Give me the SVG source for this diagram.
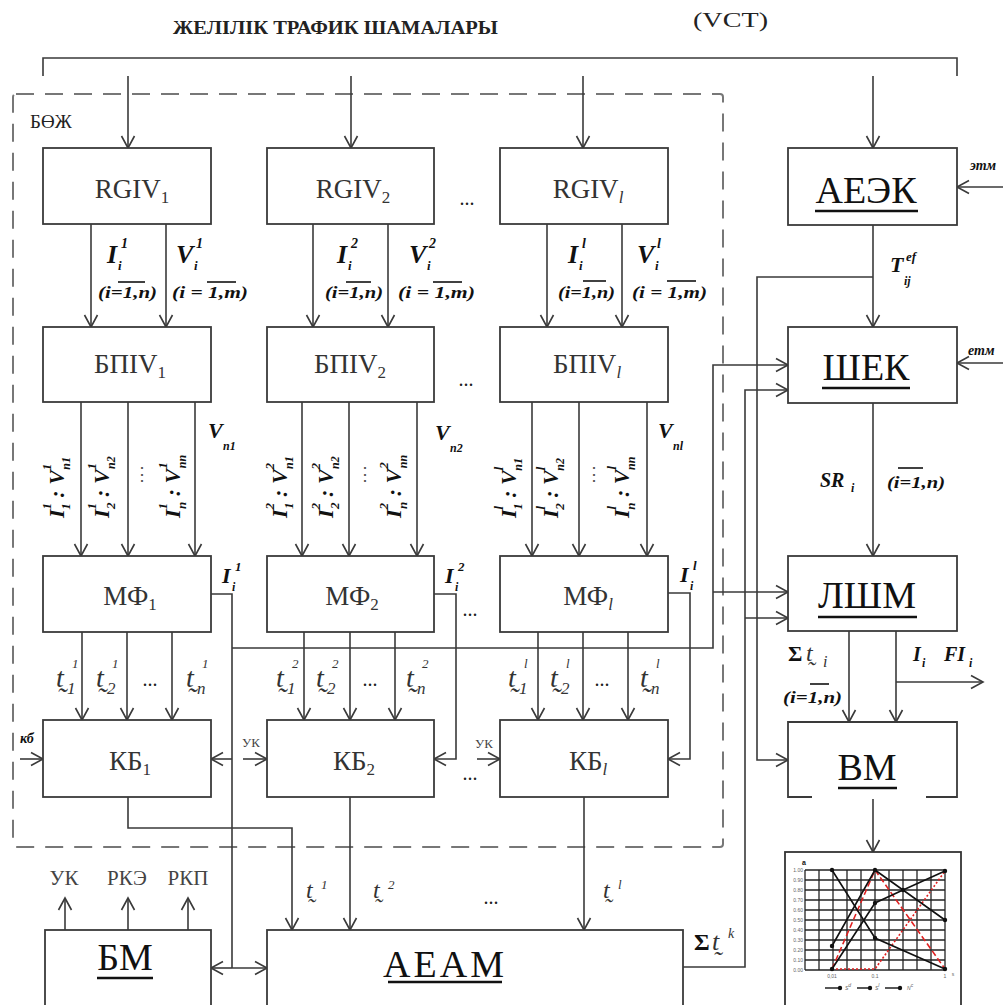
<svg xmlns="http://www.w3.org/2000/svg" width="1003" height="1005" viewBox="0 0 1003 1005">
<defs>
<marker id="ah" markerUnits="userSpaceOnUse" markerWidth="16" markerHeight="16" refX="13" refY="8" orient="auto"><path d="M1,1.5 L13,8 L1,14.5" fill="none" stroke="#3a3a3a" stroke-width="1.6"/></marker>
<marker id="dot" markerUnits="userSpaceOnUse" markerWidth="6" markerHeight="6" refX="3" refY="3"><circle cx="3" cy="3" r="2.2" fill="#111"/></marker>
<style>
.ln{fill:none;stroke:#3a3a3a;stroke-width:1.6}
.ar{marker-end:url(#ah)}
.box{fill:#fff;stroke:#3a3a3a;stroke-width:1.8}
.ul{stroke:#111;stroke-width:2.6}
.lbl{font-family:"Liberation Serif","Times New Roman",serif;font-size:27px;fill:#333;text-anchor:middle}
.sb{font-size:17px}
.big{font-family:"Liberation Serif","Times New Roman",serif;font-size:38px;fill:#111;text-anchor:middle}
.m{font-family:"Liberation Serif","Times New Roman",serif;font-weight:bold;font-style:italic;fill:#111}
.it{font-family:"Liberation Serif","DejaVu Serif",serif;font-style:italic;fill:#333}
.rg{font-family:"Liberation Serif","Times New Roman",serif;fill:#222}
.dots{font-family:"Liberation Serif","Times New Roman",serif;font-size:20px;fill:#222;text-anchor:middle}
.tl{font-family:"Liberation Serif","Times New Roman",serif;fill:#444;text-anchor:middle}
.grid{stroke:#222;stroke-width:1.3}
.tiny{font-family:"Liberation Sans",sans-serif;font-size:5px;fill:#666}
</style>
</defs>
<rect width="1003" height="1005" fill="#fff"/>

<text class="rg" x="173" y="34" font-size="19" font-weight="bold" textLength="325" lengthAdjust="spacingAndGlyphs">ЖЕЛІЛІК ТРАФИК ШАМАЛАРЫ</text>
<text class="rg" x="693" y="27" font-size="22" textLength="75" lengthAdjust="spacingAndGlyphs">(VCT)</text>

<g id="boj">
<rect x="13" y="94" width="710" height="753" rx="3" fill="none" stroke="#777" stroke-width="2" stroke-dasharray="18 11"/>
<text class="rg" x="30" y="128" font-size="19">БӨЖ</text>
</g>

<g id="connectors">
<polyline class="ln" points="43,76 43,58 957,58 957,76"/>
<line class="ln ar" x1="128" y1="76" x2="128" y2="148"/>
<line class="ln ar" x1="351" y1="76" x2="351" y2="148"/>
<line class="ln ar" x1="583" y1="76" x2="583" y2="148"/>
<line class="ln ar" x1="873" y1="76" x2="873" y2="148"/>
<line class="ln ar" x1="91" y1="224" x2="91" y2="327"/>
<line class="ln ar" x1="166" y1="224" x2="166" y2="327"/>
<line class="ln ar" x1="313" y1="224" x2="313" y2="327"/>
<line class="ln ar" x1="388" y1="224" x2="388" y2="327"/>
<line class="ln ar" x1="547" y1="224" x2="547" y2="327"/>
<line class="ln ar" x1="622" y1="224" x2="622" y2="327"/>
<line class="ln ar" x1="81" y1="402" x2="81" y2="556"/>
<line class="ln ar" x1="128" y1="402" x2="128" y2="556"/>
<line class="ln ar" x1="195" y1="402" x2="195" y2="556"/>
<line class="ln ar" x1="302" y1="402" x2="302" y2="556"/>
<line class="ln ar" x1="349" y1="402" x2="349" y2="556"/>
<line class="ln ar" x1="417" y1="402" x2="417" y2="556"/>
<line class="ln ar" x1="532" y1="402" x2="532" y2="556"/>
<line class="ln ar" x1="579" y1="402" x2="579" y2="556"/>
<line class="ln ar" x1="647" y1="402" x2="647" y2="556"/>
<line class="ln ar" x1="82" y1="632" x2="82" y2="720"/>
<line class="ln ar" x1="127" y1="632" x2="127" y2="720"/>
<line class="ln ar" x1="172" y1="632" x2="172" y2="720"/>
<line class="ln ar" x1="304" y1="632" x2="304" y2="720"/>
<line class="ln ar" x1="350" y1="632" x2="350" y2="720"/>
<line class="ln ar" x1="395" y1="632" x2="395" y2="720"/>
<line class="ln ar" x1="538" y1="632" x2="538" y2="720"/>
<line class="ln ar" x1="583" y1="632" x2="583" y2="720"/>
<line class="ln ar" x1="628" y1="632" x2="628" y2="720"/>
<polyline class="ln" points="211,594 232,594 232,968"/>
<line class="ln ar" x1="232" y1="759" x2="211" y2="759"/>
<line class="ln ar" x1="232" y1="968" x2="211" y2="968"/>
<line class="ln ar" x1="232" y1="968" x2="267" y2="968"/>
<polyline class="ln ar" points="232,648 713,648 713,365 788,365"/>
<line class="ln ar" x1="713" y1="592" x2="788" y2="592"/>
<polyline class="ln ar" points="434,594 456,594 456,759 434,759"/>
<polyline class="ln ar" points="668,593 690,593 690,759 668,759"/>
<line class="ln ar" x1="243" y1="759" x2="267" y2="759"/>
<line class="ln ar" x1="477" y1="759" x2="500" y2="759"/>
<line class="ln ar" x1="20" y1="759" x2="43" y2="759"/>
<polyline class="ln ar" points="128,797 128,828 292,828 292,930"/>
<line class="ln ar" x1="350" y1="797" x2="350" y2="930"/>
<line class="ln ar" x1="584" y1="797" x2="584" y2="930"/>
<polyline class="ln ar" points="683,967 745,967 745,390 788,390"/>
<line class="ln ar" x1="745" y1="618" x2="788" y2="618"/>
<line class="ln ar" x1="873" y1="225" x2="873" y2="327"/>
<polyline class="ln ar" points="873,277 757,277 757,760 788,760"/>
<line class="ln ar" x1="1003" y1="187" x2="957" y2="187"/>
<line class="ln ar" x1="1003" y1="363" x2="957" y2="363"/>
<line class="ln ar" x1="873" y1="403" x2="873" y2="556"/>
<line class="ln ar" x1="849" y1="631" x2="849" y2="722"/>
<line class="ln ar" x1="896" y1="631" x2="896" y2="722"/>
<line class="ln ar" x1="896" y1="682" x2="983" y2="682"/>
<line class="ln ar" x1="873" y1="799" x2="873" y2="852"/>
<line class="ln ar" x1="65" y1="930" x2="65" y2="898"/>
<line class="ln ar" x1="128" y1="930" x2="128" y2="898"/>
<line class="ln ar" x1="188" y1="930" x2="188" y2="898"/>
</g>

<g id="rgiv1"><rect class="box" x="43" y="148" width="168" height="76"/><text class="lbl" x="132" y="198">RGIV<tspan class="sb" dy="5">1</tspan></text></g>
<g id="rgiv2"><rect class="box" x="267" y="148" width="167" height="76"/><text class="lbl" x="353" y="198">RGIV<tspan class="sb" dy="5">2</tspan></text></g>
<g id="rgivl"><rect class="box" x="500" y="148" width="168" height="76"/><text class="lbl" x="588" y="198">RGIV<tspan class="sb" dy="5" font-style="italic">l</tspan></text></g>
<g id="bpiv1"><rect class="box" x="43" y="327" width="168" height="75"/><text class="lbl" x="130" y="373">БПIV<tspan class="sb" dy="5">1</tspan></text></g>
<g id="bpiv2"><rect class="box" x="267" y="327" width="167" height="75"/><text class="lbl" x="350" y="373">БПIV<tspan class="sb" dy="5">2</tspan></text></g>
<g id="bpivl"><rect class="box" x="500" y="327" width="168" height="75"/><text class="lbl" x="587" y="373">БПIV<tspan class="sb" dy="5" font-style="italic">l</tspan></text></g>
<g id="mf1"><rect class="box" x="43" y="556" width="168" height="76"/><text class="lbl" x="130" y="605">МФ<tspan class="sb" dy="5">1</tspan></text></g>
<g id="mf2"><rect class="box" x="267" y="556" width="167" height="76"/><text class="lbl" x="352" y="605">МФ<tspan class="sb" dy="5">2</tspan></text></g>
<g id="mfl"><rect class="box" x="500" y="556" width="168" height="76"/><text class="lbl" x="588" y="605">МФ<tspan class="sb" dy="5" font-style="italic">l</tspan></text></g>
<g id="kb1"><rect class="box" x="43" y="720" width="168" height="77"/><text class="lbl" x="130" y="770">КБ<tspan class="sb" dy="5">1</tspan></text></g>
<g id="kb2"><rect class="box" x="267" y="720" width="167" height="77"/><text class="lbl" x="354" y="770">КБ<tspan class="sb" dy="5">2</tspan></text></g>
<g id="kbl"><rect class="box" x="500" y="720" width="168" height="77"/><text class="lbl" x="588" y="770">КБ<tspan class="sb" dy="5" font-style="italic">l</tspan></text></g>

<g id="aeek"><rect class="box" x="788" y="148" width="169" height="77"/><text class="big" x="866" y="203" font-size="37">АЕЭК</text><line class="ul" x1="815" y1="211" x2="918" y2="211"/></g>
<g id="shek"><rect class="box" x="788" y="327" width="169" height="76"/><text class="big" x="866" y="380">ШЕК</text><line class="ul" x1="822" y1="388" x2="910" y2="388"/></g>
<g id="lshm"><rect class="box" x="788" y="556" width="169" height="75"/><text class="big" x="867" y="608">ЛШМ</text><line class="ul" x1="818" y1="617" x2="917" y2="617"/></g>
<g id="vm"><path class="box" d="M812,797 L788,797 L788,722 L957,722 L957,797 L926,797"/><text class="big" x="867" y="780">ВМ</text><line class="ul" x1="838" y1="788" x2="897" y2="788"/></g>
<g id="bm"><rect class="box" x="45" y="930" width="166" height="80"/><text class="big" x="125" y="970" font-size="36">БМ</text><line class="ul" x1="97" y1="978" x2="153" y2="978"/></g>
<g id="aeam"><rect class="box" x="267" y="930" width="416" height="80"/><text class="big" x="445" y="977" font-size="31" letter-spacing="3">АЕАМ</text><line class="ul" x1="388" y1="982" x2="502" y2="982" stroke-width="2"/></g>

<g id="chart">
<rect x="785" y="852" width="176" height="170" fill="#fff" stroke="#333" stroke-width="1.8"/>
<g class="grid">
<line x1="805" y1="870" x2="805" y2="970"/><line x1="819" y1="870" x2="819" y2="970"/><line x1="833" y1="870" x2="833" y2="970"/><line x1="847" y1="870" x2="847" y2="970"/><line x1="861" y1="870" x2="861" y2="970"/><line x1="875" y1="870" x2="875" y2="970"/><line x1="889" y1="870" x2="889" y2="970"/><line x1="903" y1="870" x2="903" y2="970"/><line x1="917" y1="870" x2="917" y2="970"/><line x1="931" y1="870" x2="931" y2="970"/><line x1="945" y1="870" x2="945" y2="970"/>
<line x1="805" y1="870" x2="945" y2="870"/><line x1="805" y1="880" x2="945" y2="880"/><line x1="805" y1="890" x2="945" y2="890"/><line x1="805" y1="900" x2="945" y2="900"/><line x1="805" y1="910" x2="945" y2="910"/><line x1="805" y1="920" x2="945" y2="920"/><line x1="805" y1="930" x2="945" y2="930"/><line x1="805" y1="940" x2="945" y2="940"/><line x1="805" y1="950" x2="945" y2="950"/><line x1="805" y1="960" x2="945" y2="960"/><line x1="805" y1="970" x2="945" y2="970"/>
</g>
<g fill="none" stroke-width="1.6">
<polyline points="832,969 875,870 945,969" stroke="#e02020" stroke-dasharray="6 3"/>
<polyline points="832,969 875,969 945,871" stroke="#e02020" stroke-dasharray="2 2"/>
<polyline points="832,870 875,938 945,969" stroke="#111" marker-start="url(#dot)" marker-mid="url(#dot)" marker-end="url(#dot)"/>
<polyline points="832,946 875,870 945,920" stroke="#111" marker-start="url(#dot)" marker-mid="url(#dot)" marker-end="url(#dot)"/>
<polyline points="832,969 875,903 903,890 945,871" stroke="#111" marker-start="url(#dot)" marker-mid="url(#dot)" marker-end="url(#dot)"/>
</g>
<text x="802" y="865" font-family="Liberation Sans,sans-serif" font-size="7" font-weight="bold" fill="#111">a</text>
<g class="tiny" text-anchor="end">
<text x="803" y="872">1.00</text><text x="803" y="882">0.90</text><text x="803" y="892">0.80</text><text x="803" y="902">0.70</text><text x="803" y="912">0.60</text><text x="803" y="922">0.50</text><text x="803" y="932">0.40</text><text x="803" y="942">0.30</text><text x="803" y="952">0.20</text><text x="803" y="962">0.10</text><text x="803" y="972">0.00</text>
</g>
<g class="tiny" text-anchor="middle">
<text x="832" y="978">0,01</text><text x="875" y="978">0.1</text><text x="945" y="978">1</text><text x="953" y="976">s</text>
</g>
<g stroke="#111" stroke-width="1.4" fill="none">
<line x1="825" y1="988" x2="840" y2="988" marker-end="url(#dot)"/>
<line x1="857" y1="988" x2="870" y2="988" marker-end="url(#dot)"/>
<line x1="885" y1="988" x2="900" y2="988" marker-end="url(#dot)"/>
</g>
<g class="tiny" font-size="7" font-style="italic">
<text x="845" y="990">S<tspan font-size="5" dy="-3">d</tspan></text>
<text x="875" y="990">S<tspan font-size="5" dy="-3">l</tspan></text>
<text x="907" y="990">N<tspan font-size="5" dy="-3">c</tspan></text>
</g>
</g>

<g id="labels-rgiv">
<text class="m" font-size="26"><tspan x="107" y="263">I</tspan><tspan x="121" y="248" font-size="14">1</tspan><tspan x="118" y="270" font-size="13">i</tspan></text>
<text class="m" font-size="26"><tspan x="176" y="263">V</tspan><tspan x="196" y="248" font-size="14">1</tspan><tspan x="194" y="270" font-size="13">i</tspan></text>
<text class="m" font-size="26"><tspan x="337" y="263">I</tspan><tspan x="351" y="248" font-size="14">2</tspan><tspan x="348" y="270" font-size="13">i</tspan></text>
<text class="m" font-size="26"><tspan x="409" y="263">V</tspan><tspan x="429" y="248" font-size="14">2</tspan><tspan x="427" y="270" font-size="13">i</tspan></text>
<text class="m" font-size="26"><tspan x="568" y="263">I</tspan><tspan x="582" y="248" font-size="14">l</tspan><tspan x="579" y="270" font-size="13">i</tspan></text>
<text class="m" font-size="26"><tspan x="637" y="263">V</tspan><tspan x="657" y="248" font-size="14">l</tspan><tspan x="655" y="270" font-size="13">i</tspan></text>
<g font-size="17">
<text class="m" x="98" y="298" textLength="59" lengthAdjust="spacingAndGlyphs">(i=1,n)</text>
<text class="m" x="172" y="298" textLength="76" lengthAdjust="spacingAndGlyphs">(i = 1,m)</text>
<text class="m" x="325" y="298" textLength="58" lengthAdjust="spacingAndGlyphs">(i=1,n)</text>
<text class="m" x="398" y="298" textLength="77" lengthAdjust="spacingAndGlyphs">(i = 1,m)</text>
<text class="m" x="558" y="298" textLength="57" lengthAdjust="spacingAndGlyphs">(i=1,n)</text>
<text class="m" x="632" y="298" textLength="75" lengthAdjust="spacingAndGlyphs">(i = 1,m)</text>
</g>
<g stroke="#111" stroke-width="1.6">
<line x1="118" y1="282" x2="145" y2="282"/><line x1="207" y1="282" x2="236" y2="282"/>
<line x1="346" y1="282" x2="371" y2="282"/><line x1="433" y1="282" x2="462" y2="282"/>
<line x1="583" y1="281" x2="606" y2="281"/><line x1="667" y1="281" x2="696" y2="281"/>
</g>
<text class="dots" x="467" y="205">...</text>
<text class="dots" x="466" y="386">...</text>
<text class="dots" x="470" y="616">...</text>
<text class="dots" x="470" y="780">...</text>
<text class="dots" x="491" y="904">...</text>
</g>

<g id="labels-bpiv" font-size="22">
<text class="m" transform="translate(64,518) rotate(-90)">I<tspan font-size="13" dy="-13">1</tspan><tspan font-size="13" dx="-6" dy="19">1</tspan><tspan dy="-6"> : V</tspan><tspan font-size="13" dy="-13">1</tspan><tspan font-size="12" dx="-6" dy="19">n1</tspan></text>
<text class="m" transform="translate(109,518) rotate(-90)">I<tspan font-size="13" dy="-13">1</tspan><tspan font-size="13" dx="-6" dy="19">2</tspan><tspan dy="-6"> : V</tspan><tspan font-size="13" dy="-13">1</tspan><tspan font-size="12" dx="-6" dy="19">n2</tspan></text>
<text class="m" transform="translate(180,518) rotate(-90)">I<tspan font-size="13" dy="-13">1</tspan><tspan font-size="13" dx="-6" dy="19">n</tspan><tspan dy="-6"> : V</tspan><tspan font-size="13" dy="-13">1</tspan><tspan font-size="12" dx="-6" dy="19">nn</tspan></text>
<text class="m" transform="translate(287,518) rotate(-90)">I<tspan font-size="13" dy="-13">2</tspan><tspan font-size="13" dx="-6" dy="19">1</tspan><tspan dy="-6"> : V</tspan><tspan font-size="13" dy="-13">2</tspan><tspan font-size="12" dx="-6" dy="19">n1</tspan></text>
<text class="m" transform="translate(333,518) rotate(-90)">I<tspan font-size="13" dy="-13">2</tspan><tspan font-size="13" dx="-6" dy="19">2</tspan><tspan dy="-6"> : V</tspan><tspan font-size="13" dy="-13">2</tspan><tspan font-size="12" dx="-6" dy="19">n2</tspan></text>
<text class="m" transform="translate(401,518) rotate(-90)">I<tspan font-size="13" dy="-13">2</tspan><tspan font-size="13" dx="-6" dy="19">n</tspan><tspan dy="-6"> : V</tspan><tspan font-size="13" dy="-13">2</tspan><tspan font-size="12" dx="-6" dy="19">nn</tspan></text>
<text class="m" transform="translate(516,518) rotate(-90)">I<tspan font-size="13" dy="-13">l</tspan><tspan font-size="13" dx="-4" dy="19">1</tspan><tspan dy="-6"> : V</tspan><tspan font-size="13" dy="-13">l</tspan><tspan font-size="12" dx="-4" dy="19">n1</tspan></text>
<text class="m" transform="translate(558,518) rotate(-90)">I<tspan font-size="13" dy="-13">l</tspan><tspan font-size="13" dx="-4" dy="19">2</tspan><tspan dy="-6"> : V</tspan><tspan font-size="13" dy="-13">l</tspan><tspan font-size="12" dx="-4" dy="19">n2</tspan></text>
<text class="m" transform="translate(629,518) rotate(-90)">I<tspan font-size="13" dy="-13">l</tspan><tspan font-size="13" dx="-4" dy="19">n</tspan><tspan dy="-6"> : V</tspan><tspan font-size="13" dy="-13">l</tspan><tspan font-size="12" dx="-4" dy="19">nn</tspan></text>
<g font-family="DejaVu Serif,serif" font-size="18" fill="#555" text-anchor="middle">
<text x="142" y="480">⋮</text><text x="365" y="480">⋮</text><text x="594" y="480">⋮</text>
</g>
<text class="m"><tspan x="208" y="438">V</tspan><tspan x="223" y="450" font-size="12">n1</tspan></text>
<text class="m"><tspan x="435" y="440">V</tspan><tspan x="450" y="452" font-size="12">n2</tspan></text>
<text class="m"><tspan x="658" y="438">V</tspan><tspan x="673" y="450" font-size="12">nl</tspan></text>
</g>

<g id="labels-mf">
<text class="m" font-size="22"><tspan x="222" y="583">I</tspan><tspan x="235" y="571" font-size="13">1</tspan><tspan x="232" y="591" font-size="12">i</tspan></text>
<text class="m" font-size="22"><tspan x="445" y="583">I</tspan><tspan x="458" y="571" font-size="13">2</tspan><tspan x="455" y="591" font-size="12">i</tspan></text>
<text class="m" font-size="22"><tspan x="680" y="582">I</tspan><tspan x="693" y="570" font-size="13">l</tspan><tspan x="690" y="590" font-size="12">i</tspan></text>
</g>

<g id="labels-t">
<text class="it" font-size="28"><tspan x="56" y="687">t̰</tspan><tspan x="72" y="668" font-size="13">1</tspan><tspan x="67" y="694" font-size="17">1</tspan></text>
<text class="it" font-size="28"><tspan x="96" y="687">t̰</tspan><tspan x="112" y="668" font-size="13">1</tspan><tspan x="107" y="694" font-size="17">2</tspan></text>
<text class="dots" x="150" y="686">...</text>
<text class="it" font-size="28"><tspan x="186" y="687">t̰</tspan><tspan x="202" y="668" font-size="13">1</tspan><tspan x="197" y="694" font-size="17">n</tspan></text>
<text class="it" font-size="28"><tspan x="276" y="687">t̰</tspan><tspan x="292" y="668" font-size="13">2</tspan><tspan x="287" y="694" font-size="17">1</tspan></text>
<text class="it" font-size="28"><tspan x="316" y="687">t̰</tspan><tspan x="332" y="668" font-size="13">2</tspan><tspan x="327" y="694" font-size="17">2</tspan></text>
<text class="dots" x="370" y="686">...</text>
<text class="it" font-size="28"><tspan x="406" y="687">t̰</tspan><tspan x="422" y="668" font-size="13">2</tspan><tspan x="417" y="694" font-size="17">n</tspan></text>
<text class="it" font-size="28"><tspan x="508" y="687">t̰</tspan><tspan x="524" y="668" font-size="13">l</tspan><tspan x="519" y="694" font-size="17">1</tspan></text>
<text class="it" font-size="28"><tspan x="550" y="687">t̰</tspan><tspan x="566" y="668" font-size="13">l</tspan><tspan x="561" y="694" font-size="17">2</tspan></text>
<text class="dots" x="602" y="686">...</text>
<text class="it" font-size="28"><tspan x="640" y="687">t̰</tspan><tspan x="656" y="668" font-size="13">l</tspan><tspan x="651" y="694" font-size="17">n</tspan></text>
<text class="it" font-size="24"><tspan x="306" y="898">t̰</tspan><tspan x="321" y="889" font-size="13">1</tspan></text>
<text class="it" font-size="24"><tspan x="373" y="898">t̰</tspan><tspan x="388" y="889" font-size="13">2</tspan></text>
<text class="it" font-size="24"><tspan x="603" y="898">t̰</tspan><tspan x="618" y="889" font-size="13">l</tspan></text>
<text class="it" font-size="26"><tspan x="694" y="950" font-style="normal" font-weight="bold" fill="#111" font-size="24">Σ</tspan><tspan x="712" y="950">t̰</tspan><tspan x="728" y="938" font-size="14">k</tspan></text>
</g>

<g id="labels-right">
<text class="m" font-size="22"><tspan x="890" y="272">T</tspan><tspan x="906" y="261" font-size="13">ef</tspan><tspan x="904" y="285" font-size="12">ij</tspan></text>
<text class="m" font-size="20"><tspan x="820" y="487">SR</tspan><tspan x="851" y="492" font-size="12">i</tspan></text>
<text class="m" x="887" y="488" font-size="17" textLength="58" lengthAdjust="spacingAndGlyphs">(i=1,n)</text>
<line x1="898" y1="468" x2="923" y2="468" stroke="#111" stroke-width="1.6"/>
<text class="it" font-size="24"><tspan x="788" y="661" font-style="normal" font-weight="bold" fill="#111" font-size="22">Σ</tspan><tspan x="806" y="661">t̰</tspan><tspan x="823" y="667" font-size="16">i</tspan></text>
<text class="m" x="783" y="703" font-size="17" textLength="59" lengthAdjust="spacingAndGlyphs">(i=1,n)</text>
<line x1="810" y1="684" x2="829" y2="684" stroke="#111" stroke-width="1.6"/>
<text class="m" font-size="20"><tspan x="913" y="661">I</tspan><tspan x="922" y="667" font-size="12">i</tspan><tspan x="944" y="661">FI</tspan><tspan x="969" y="667" font-size="12">i</tspan></text>
<text class="m" x="970" y="170" font-size="14" font-style="normal">этм</text>
<text class="m" x="968" y="355" font-size="14" font-style="normal">етм</text>
<text class="m" x="20" y="743" font-size="14" font-style="normal">кб</text>
<text class="tl" x="251" y="747" font-size="13">УК</text>
<text class="tl" x="484" y="748" font-size="13">УК</text>
<text class="tl" x="64" y="885" font-size="21">УК</text>
<text class="tl" x="127" y="885" font-size="21">РКЭ</text>
<text class="tl" x="188" y="885" font-size="21">РКП</text>
</g>
</svg>
